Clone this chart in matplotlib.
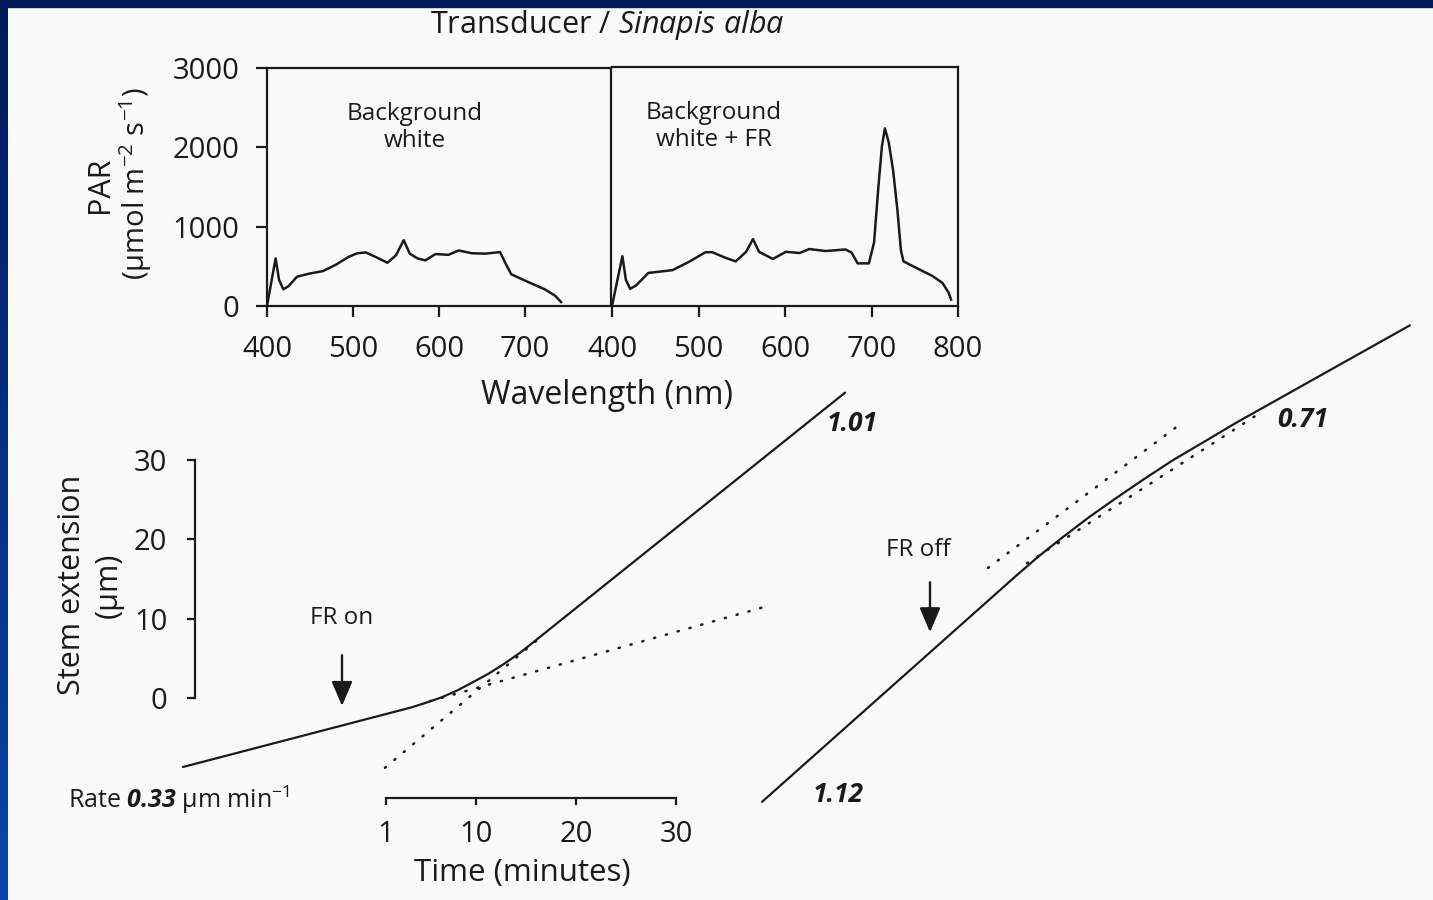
import matplotlib

matplotlib.use("Agg")
import matplotlib.pyplot as plt
import numpy as np
from matplotlib.colors import LinearSegmentedColormap
from matplotlib.patches import Rectangle

W, H, DPI = 1433, 900, 100

plt.rcParams["font.family"] = ["Open Sans", "DejaVu Sans"]
plt.rcParams["mathtext.fontset"] = "custom"
plt.rcParams["mathtext.rm"] = "Open Sans"
plt.rcParams["mathtext.it"] = "Open Sans:italic"
plt.rcParams["mathtext.bf"] = "Open Sans:bold"
plt.rcParams["mathtext.bfit"] = "Open Sans:italic:bold"

INK = "#1a1a1a"
PAPER = "#fafafa"
NAVY = "#001a5c"

# Spectra under the two backgrounds (nm, PAR umol m-2 s-1)
WL_WHITE = [400, 410, 414, 419, 425, 435, 450, 465, 480, 495, 505, 515, 528,
            540, 550, 559, 566, 575, 584, 596, 611, 623, 638, 654, 671, 677,
            684, 700, 723, 735, 742]
PAR_WHITE = [0, 600, 330, 210, 250, 370, 410, 440, 520, 620, 665, 675, 610,
             545, 640, 830, 660, 600, 575, 655, 645, 700, 665, 660, 680, 545,
             400, 320, 210, 130, 50]

WL_FR = [400, 412, 416, 421, 428, 442, 470, 490, 508, 516, 530, 543, 555, 563,
         570, 586, 601, 617, 628, 647, 670, 677, 684, 697, 703, 708, 712, 715.5,
         720, 725, 730, 734, 737, 755, 770, 782, 789, 792]
PAR_FR = [0, 625, 330, 215, 260, 415, 450, 560, 675, 675, 610, 560, 680, 840,
          680, 590, 680, 665, 715, 690, 710, 670, 535, 535, 800, 1500, 2000, 2230,
          2050, 1700, 1200, 700, 560, 460, 380, 290, 170, 80]

WL_TICKS_LEFT = [400, 500, 600, 700]
WL_TICKS_RIGHT = [400, 500, 600, 700, 800]
PAR_TICKS = [0, 1000, 2000, 3000]

# Stem extension traces (minutes, um)
T_ON = [-19.3, 3.5, 5.0, 6.6, 8.2, 9.7, 11.3, 12.8, 14.4, 16.0, 46.9]
S_ON = [-8.7, -1.2, -0.6, 0.1, 1.0, 2.0, 3.1, 4.3, 5.7, 7.3, 38.5]
T_ON_EARLY_FIT = [5.4, 38.9]
S_ON_EARLY_FIT = [-0.4, 11.5]
T_ON_LATE_FIT = [0.9, 16.4]
S_ON_LATE_FIT = [-8.8, 7.6]

T_OFF = [38.6, 64.0, 66.3, 68.7, 71.3, 74.0, 76.8, 79.7, 82.8, 86.0, 103.4]
S_OFF = [-13.1, 15.4, 17.9, 20.3, 22.8, 25.2, 27.6, 30.0, 32.3, 34.7, 47.0]
T_OFF_EARLY_FIT = [61.2, 80.6]
S_OFF_EARLY_FIT = [16.4, 34.7]
T_OFF_LATE_FIT = [65.1, 88.1]
S_OFF_LATE_FIT = [17.0, 35.7]

RATE_LABELS = ["1.01", "0.71", "1.12"]
RATE_POS = [(45.1, 34.6), (90.1, 35.1), (43.7, -12.2)]

FR_ON_T, FR_ON_S = -3.4, (5.4, -1.0)
FR_OFF_T, FR_OFF_S = 55.4, (14.6, 8.3)

STEM_TICKS = [0, 10, 20, 30]
TIME_TICKS = [1, 10, 20, 30]

# pixel placement of the stem-extension frame
T0_PX, PX_PER_MIN = 376, 10.0
S0_PX, PX_PER_UM = 698, 7.93


def fig_rect(x0, y0, x1, y1):
    return [x0 / W, 1 - y1 / H, (x1 - x0) / W, (y1 - y0) / H]


fig = plt.figure(figsize=(W / DPI, H / DPI), dpi=DPI, facecolor=PAPER)

# slide frame: navy strip along the top, blue gradient down the left edge
fig.add_artist(Rectangle((0, 1 - 7 / H), 1, 7 / H, transform=fig.transFigure,
                         color=NAVY, zorder=10))
edge = fig.add_axes([0, 0, 8 / W, 1 - 7 / H])
edge.imshow(np.linspace(0, 1, 256)[:, None], aspect="auto",
            cmap=LinearSegmentedColormap.from_list("edge", [NAVY, "#0a44aa"]))
edge.set_axis_off()

# ---- stem extension --------------------------------------------------------
ax = fig.add_axes([0, 0, 1, 1], facecolor="none")
ax.set_xlim(-T0_PX / PX_PER_MIN, (W - T0_PX) / PX_PER_MIN)
ax.set_ylim((S0_PX - H) / PX_PER_UM, S0_PX / PX_PER_UM)

line_kw = dict(color=INK, lw=1.6, solid_capstyle="round",
               solid_joinstyle="round")
dot_kw = dict(color=INK, lw=1.8, dashes=(0.5, 4.4), dash_capstyle="round")
ax.plot(T_ON, S_ON, **line_kw)
ax.plot(T_ON_EARLY_FIT, S_ON_EARLY_FIT, **dot_kw)
ax.plot(T_ON_LATE_FIT, S_ON_LATE_FIT, **dot_kw)
ax.plot(T_OFF, S_OFF, **line_kw)
ax.plot(T_OFF_EARLY_FIT, S_OFF_EARLY_FIT, **dot_kw)
ax.plot(T_OFF_LATE_FIT, S_OFF_LATE_FIT, **dot_kw)

for lab, (t, s) in zip(RATE_LABELS, RATE_POS):
    ax.text(t, s, lab, fontsize=19, fontweight="bold", style="italic",
            color=INK, ha="left", va="center")

arrow_kw = dict(arrowstyle="-|>,head_length=0.75,head_width=0.32",
                lw=1.7, color=INK, mutation_scale=20, shrinkA=0, shrinkB=0)
ax.annotate("", xy=(FR_ON_T, FR_ON_S[1]), xytext=(FR_ON_T, FR_ON_S[0]),
            arrowprops=arrow_kw)
ax.annotate("", xy=(FR_OFF_T, FR_OFF_S[1]), xytext=(FR_OFF_T, FR_OFF_S[0]),
            arrowprops=arrow_kw)
ax.text(FR_ON_T, FR_ON_S[0] + 4.7, "FR on", fontsize=17.5, color=INK,
        ha="center", va="center")
ax.text(FR_OFF_T - 1.2, FR_OFF_S[0] + 4.1, "FR off", fontsize=17.5, color=INK,
        ha="center", va="center")

# scale bars built from the axis spines
for side in ("top", "right"):
    ax.spines[side].set_visible(False)
ax.spines["left"].set_position(("data", (195 - T0_PX) / PX_PER_MIN))
ax.spines["left"].set_bounds(STEM_TICKS[0], STEM_TICKS[-1])
ax.spines["bottom"].set_position(("data", (S0_PX - 798) / PX_PER_UM))
ax.spines["bottom"].set_bounds(TIME_TICKS[0], TIME_TICKS[-1])
for side in ("left", "bottom"):
    ax.spines[side].set_linewidth(1.6)
    ax.spines[side].set_color(INK)
ax.set_yticks(STEM_TICKS)
ax.set_xticks(TIME_TICKS)
ax.tick_params(axis="y", direction="out", length=6, width=1.6, pad=14,
               labelsize=21, colors=INK)
ax.tick_params(axis="x", direction="out", length=5, width=1.6, pad=11,
               labelsize=21, colors=INK)

fig.text(72 / W, 1 - 585 / H, "Stem extension", rotation=90, fontsize=22,
         color=INK, ha="center", va="center")
fig.text(109 / W, 1 - 585 / H, "(µm)", rotation=90, fontsize=22,
         color=INK, ha="center", va="center")
fig.text(522 / W, 1 - 873 / H, "Time (minutes)", fontsize=22.5, color=INK,
         ha="center", va="center")
fig.text(68 / W, 1 - 800 / H, r"Rate $\mathbfit{0.33}$ µm min$^{-1}$",
         fontsize=18, color=INK, ha="left", va="center")

# ---- spectra ---------------------------------------------------------------
ax_w = fig.add_axes(fig_rect(267, 68, 611, 306), facecolor="none")
ax_fr = fig.add_axes(fig_rect(612, 67, 958, 306), facecolor="none")

for a, wl, par in ((ax_w, WL_WHITE, PAR_WHITE), (ax_fr, WL_FR, PAR_FR)):
    a.plot(wl, par, color=INK, lw=1.8, solid_joinstyle="round")
    a.set_xlim(400, 800)
    a.set_ylim(0, 3000)
    for sp in a.spines.values():
        sp.set_linewidth(1.6)
        sp.set_color(INK)
    a.tick_params(axis="x", direction="out", length=8, width=1.6, pad=13,
                  labelsize=21, colors=INK)
    a.tick_params(axis="y", direction="out", length=8, width=1.6, pad=12,
                  labelsize=21, colors=INK)

ax_w.set_xticks(WL_TICKS_LEFT)
ax_w.set_yticks(PAR_TICKS)
ax_fr.set_xticks(WL_TICKS_RIGHT)
ax_fr.set_yticks([])
ax_fr.spines["left"].set_visible(False)

ax_w.text(572, 2250, "Background\nwhite", fontsize=17.5, color=INK,
          ha="center", va="center", linespacing=1.15)
ax_fr.text(518, 2250, "Background\nwhite + FR", fontsize=17.5, color=INK,
           ha="center", va="center", linespacing=1.15)

fig.text(607 / W, 1 - 25 / H, r"Transducer / $\mathit{Sinapis\ alba}$",
         fontsize=22, color=INK, ha="center", va="center")
fig.text(607 / W, 1 - 395 / H, "Wavelength (nm)", fontsize=23, color=INK,
         ha="center", va="center")
fig.text(100 / W, 1 - 185 / H, "PAR", rotation=90, fontsize=22, color=INK,
         ha="center", va="center")
fig.text(136 / W, 1 - 184 / H, r"(µmol m$^{-2}$ s$^{-1}$)", rotation=90,
         fontsize=21, color=INK, ha="center", va="center")

fig.savefig("out.png", dpi=DPI, facecolor=PAPER)
